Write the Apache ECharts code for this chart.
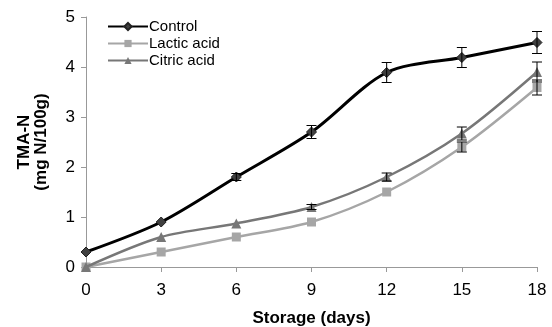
<!DOCTYPE html>
<html>
<head>
<meta charset="utf-8">
<script src="https://cdn.jsdelivr.net/npm/echarts@6/dist/echarts.min.js"></script>
<style>
  html, body { margin: 0; padding: 0; background: #fff; }
  #chart { width: 552px; height: 327px; }
</style>
</head>
<body>
<div id="chart"></div>
<script>
  const days = [0, 3, 6, 9, 12, 15, 18]
  const control = [0.3, 0.9, 1.8, 2.7, 3.89, 4.19, 4.49]
  const controlErr = [0, 0, 0.07, 0.13, 0.2, 0.2, 0.22]
  const lactic = [0, 0.3, 0.6, 0.9, 1.5, 2.4, 3.59]
  const lacticErr = [0, 0, 0, 0, 0, 0.1, 0.15]
  const citric = [0, 0.6, 0.87, 1.2, 1.8, 2.67, 3.9]
  const citricErr = [0, 0, 0, 0.05, 0.08, 0.13, 0.2]

  const font = '"Liberation Sans", Arial, sans-serif'

  const pairs = (ys) => days.map((d, i) => [d, ys[i]])
  const errData = (ys, es) => days.map((d, i) => [d, ys[i] - es[i], ys[i] + es[i]]).filter((r, i) => es[i] > 0)

  function errSeries(ys, es) {
    return {
      type: 'custom',
      z: 5,
      silent: true,
      data: errData(ys, es),
      renderItem: function (params, api) {
        const lo = api.coord([api.value(0), api.value(1)])
        const hi = api.coord([api.value(0), api.value(2)])
        const w = 5
        const style = { stroke: '#000', lineWidth: 1 }
        return {
          type: 'group',
          children: [
            { type: 'line', shape: { x1: lo[0], y1: lo[1], x2: hi[0], y2: hi[1] }, style },
            { type: 'line', shape: { x1: hi[0] - w, y1: hi[1], x2: hi[0] + w, y2: hi[1] }, style },
            { type: 'line', shape: { x1: lo[0] - w, y1: lo[1], x2: lo[0] + w, y2: lo[1] }, style },
          ],
        }
      },
    }
  }

  var myChart = echarts.init(document.getElementById('chart'))
  var option = {
    animation: false,
    textStyle: { fontFamily: font },
    grid: { left: 86, right: 15, top: 17, bottom: 60, outerBoundsMode: 'none', containLabel: false },
    legend: {
      data: ['Control', 'Lactic acid', 'Citric acid'],
      orient: 'vertical',
      left: 102,
      top: 14,
      itemWidth: 40,
      itemHeight: 9,
      itemGap: 2,
      textStyle: { fontFamily: font, fontSize: 15, lineHeight: 13, color: '#000', padding: [0, 0, 0, -4] },
    },
    xAxis: {
      type: 'value',
      min: 0,
      max: 18,
      interval: 3,
      name: 'Storage (days)',
      nameLocation: 'middle',
      nameGap: 43,
      nameTextStyle: { fontFamily: font, fontSize: 17, fontWeight: 'bold', color: '#000' },
      axisLine: { lineStyle: { color: '#999', width: 1 } },
      axisTick: { show: true, length: 5, lineStyle: { color: '#999' } },
      axisLabel: { fontFamily: font, fontSize: 17, color: '#000', margin: 15 },
      splitLine: { show: false },
    },
    yAxis: {
      type: 'value',
      min: 0,
      max: 5,
      interval: 1,
      name: 'TMA-N\n(mg N/100g)',
      nameLocation: 'middle',
      nameGap: 36,
      nameTextStyle: { fontFamily: font, fontSize: 17, fontWeight: 'bold', color: '#000', lineHeight: 17 },
      axisLine: { show: true, lineStyle: { color: '#999', width: 1 } },
      axisTick: { show: true, length: 5, lineStyle: { color: '#999' } },
      axisLabel: { fontFamily: font, fontSize: 17, color: '#000', margin: 11 },
      splitLine: { show: false },
    },
    series: [
      {
        name: 'Control',
        type: 'line',
        smooth: 0.3,
        data: pairs(control),
        symbol: 'diamond',
        symbolSize: 10,
        z: 4,
        lineStyle: { color: '#000', width: 3 },
        itemStyle: { color: '#404040', borderColor: '#222', borderWidth: 1 },
      },
      {
        name: 'Lactic acid',
        type: 'line',
        smooth: 0.3,
        data: pairs(lactic),
        symbol: 'rect',
        symbolSize: 9,
        z: 2,
        lineStyle: { color: '#a6a6a6', width: 2.5 },
        itemStyle: { color: '#a6a6a6' },
      },
      {
        name: 'Citric acid',
        type: 'line',
        smooth: 0.3,
        data: pairs(citric),
        symbol: 'triangle',
        symbolSize: 10,
        z: 3,
        lineStyle: { color: '#777', width: 2.5 },
        itemStyle: { color: '#777' },
      },
      errSeries(control, controlErr),
      errSeries(lactic, lacticErr),
      errSeries(citric, citricErr),
    ],
  }
  option && myChart.setOption(option)
</script>
</body>
</html>
